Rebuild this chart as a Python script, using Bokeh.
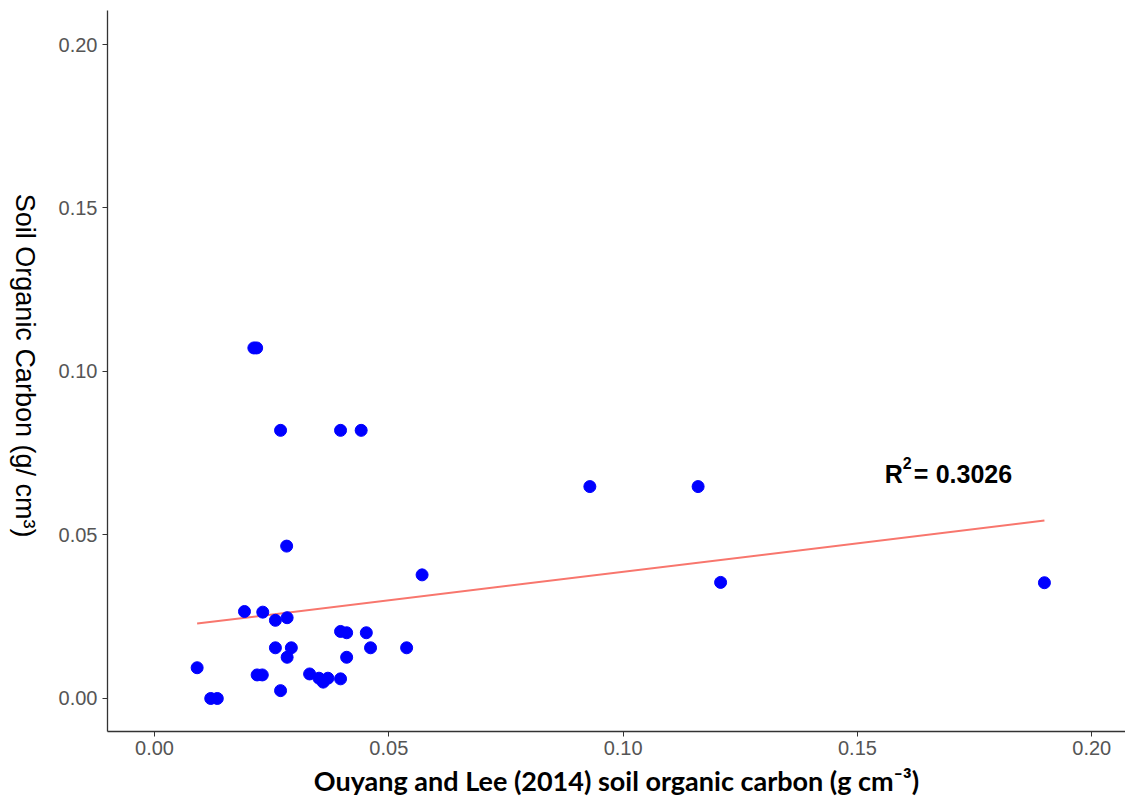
import math
from bokeh.plotting import figure
from bokeh.layouts import row
from bokeh.models import Range1d, FixedTicker, PrintfTickFormatter, ColumnDataSource
from bokeh.core.properties import value
from bokeh.embed import file_html
from bokeh.resources import INLINE

# Data
ouyang_soc = [0.0091, 0.0120, 0.0134, 0.0192, 0.0212, 0.0218, 0.0219, 0.0230, 0.0231,
              0.0258, 0.0283, 0.0258, 0.0292, 0.0269, 0.0269, 0.0282, 0.0283, 0.0331,
              0.0351, 0.0360, 0.0370, 0.0397, 0.0441, 0.0397, 0.0397, 0.0410, 0.0410,
              0.0452, 0.0461, 0.0538, 0.0571, 0.0929, 0.1160, 0.1208, 0.1899]
soil_oc = [0.0094, 0.0000, 0.0000, 0.0266, 0.1072, 0.1072, 0.0072, 0.0072, 0.0264,
           0.0239, 0.0247, 0.0155, 0.0155, 0.0820, 0.0024, 0.0466, 0.0126, 0.0075,
           0.0062, 0.0050, 0.0062, 0.0820, 0.0820, 0.0060, 0.0205, 0.0201, 0.0126,
           0.0201, 0.0155, 0.0155, 0.0378, 0.0648, 0.0648, 0.0355, 0.0354]
fit_x = [0.0091, 0.1899]
fit_y = [0.0229, 0.0544]
r2_text = "0.3026"
tick_values = [0.0, 0.05, 0.10, 0.15, 0.20]
y_title = "Soil Organic Carbon (g/ cm\u00b3)"
x_title = "Ouyang and Lee (2014) soil organic carbon (g cm\u207b\u00b3)"

W_TOTAL, H_TOTAL = 1125, 803
W_LEFT = 45
BORDER_TOP, BORDER_BOTTOM = 10, 72

x_lo, x_hi = -0.01003, 0.2072
y_lo, y_hi = -0.0101, 0.2104

p = figure(width=W_TOTAL - W_LEFT, height=H_TOTAL, output_backend="svg", toolbar_location=None,
           x_range=Range1d(x_lo, x_hi), y_range=Range1d(y_lo, y_hi),
           min_border_left=107 - W_LEFT, min_border_bottom=BORDER_BOTTOM,
           min_border_top=BORDER_TOP, min_border_right=0)
p.outline_line_color = None
p.xgrid.visible = False
p.ygrid.visible = False
p.background_fill_color = "white"
p.border_fill_color = "white"

for ax in (p.xaxis[0], p.yaxis[0]):
    ax.ticker = FixedTicker(ticks=tick_values)
    ax.formatter = PrintfTickFormatter(format="%.2f")
    ax.axis_line_color = "#333333"
    ax.axis_line_width = 1.3
    ax.major_tick_line_color = "#333333"
    ax.major_tick_in = 0
    ax.major_tick_out = 5
    ax.minor_tick_line_color = None
    ax.major_label_text_color = "#555555"
    ax.major_label_text_font = "Liberation Sans"
    ax.major_label_text_font_size = "20px"
    ax.axis_label_text_font_style = "normal"
    ax.axis_label_text_color = "black"

p.yaxis[0].major_label_standoff = 5

p.xaxis[0].major_label_standoff = 4
p.xaxis[0].axis_label = x_title
p.xaxis[0].axis_label_text_font = "Lato"
p.xaxis[0].axis_label_text_font_style = "bold"
p.xaxis[0].axis_label_text_font_size = "27px"
p.xaxis[0].axis_label_standoff = 6

src = ColumnDataSource(dict(x=ouyang_soc, y=soil_oc))
p.line(fit_x, fit_y, line_color="#F8766D", line_width=2)
p.scatter("x", "y", source=src, size=12, fill_color="#0000FF", line_color="#0000FF")

lab_x = 0.1558
lab_y = 0.0688
common = dict(text_font=value("Liberation Sans"), text_font_style="bold",
              text_baseline="alphabetic", text_align="left", text_color="black")
p.text(x=[lab_x], y=[lab_y], text=["R"], text_font_size="25px", **common)
p.text(x=[lab_x], y=[lab_y], text=["2"], text_font_size="16px", x_offset=18, y_offset=-11, **common)
p.text(x=[lab_x], y=[lab_y], text=["="], text_font_size="25px", x_offset=29, **common)
p.text(x=[lab_x], y=[lab_y], text=[r2_text], text_font_size="25px", x_offset=51, **common)

# Narrow left strip holding the y-axis title (reads top to bottom, as in the reference)
t = figure(width=W_LEFT, height=H_TOTAL, output_backend="svg", toolbar_location=None,
           x_range=Range1d(0, W_LEFT), y_range=Range1d(0, H_TOTAL),
           min_border=0, x_axis_type=None, y_axis_type=None)
t.outline_line_color = None
t.xgrid.visible = False
t.ygrid.visible = False
t.border_fill_color = "white"
frame_mid = H_TOTAL - (BORDER_TOP + (H_TOTAL - BORDER_TOP - BORDER_BOTTOM) / 2)
t.text(x=[24], y=[frame_mid - 25], text=[y_title], angle=-math.pi / 2,
       text_align="center", text_baseline="middle", text_font=value("Liberation Sans"),
       text_font_size="27px", text_color="black")

layout = row(t, p, spacing=0)
open("out.html", "w").write(file_html(layout, INLINE))
